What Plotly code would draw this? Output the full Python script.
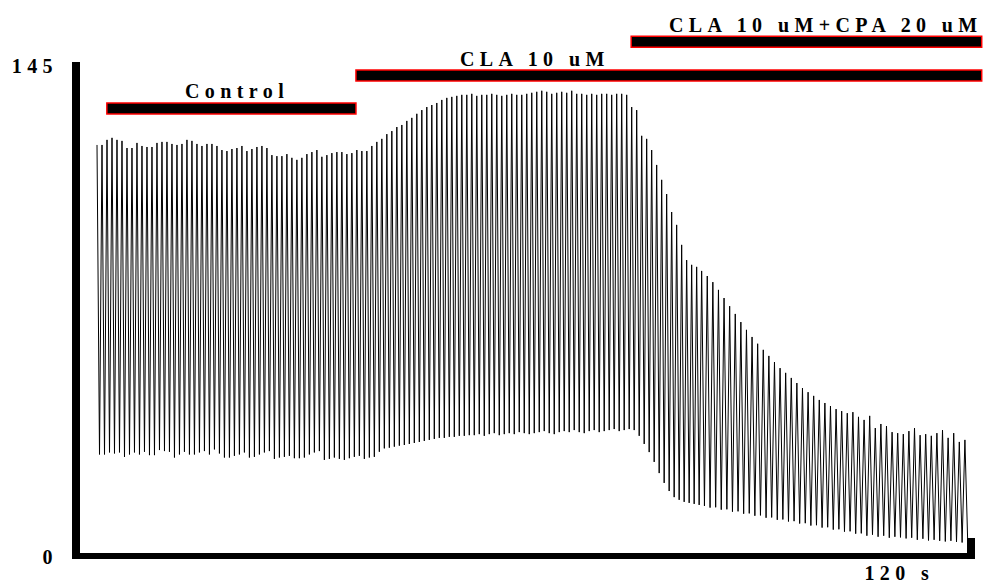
import plotly.graph_objects as go

# ---------------- data ----------------
# Peak and trough of every beat, in trace units (axis 0..145)
peaks_control = [120.5,120.5,122.0,122.6,122.0,121.7,119.6,119.6,121.1,120.2,
                 119.9,119.9,121.1,121.4,121.4,120.8,120.5,120.8,122.0,121.7,
                 120.8,120.2,120.8,120.8,120.2,119.0,118.7,119.3,119.6,120.2,
                 118.7,119.3,119.9,120.2,119.6,117.5,117.2,117.2,117.8,116.7,
                 116.1,116.7,117.8,118.4,119.0,117.0,117.5,118.1,118.4,118.4,
                 117.8,118.1,119.0,118.7,118.7,120.2,121.4,122.3,123.7,124.6,
                 125.8,126.4]
peaks_cla = [127.6,128.5,129.7,130.8,131.7,132.3,132.9,133.8,134.4,134.7,
             135.0,135.3,135.3,135.6,135.0,135.3,135.3,135.6,135.3,135.0,
             135.3,135.6,135.3,135.3,135.6,135.9,136.2,136.5,136.2,135.6,
             135.9,136.2,135.9,136.5,135.6,135.6,135.3,135.6,135.3,135.6,
             135.6,135.3,135.6,135.6,135.3]
peaks_cpa_fall = [131.7,130.8,123.2,122.3,119.0,114.6,110.2,106.0,100.7,96.9,
                  91.0,86.5,85.1,84.5]
peaks_cpa_late = [83.3,81.8,80.0,77.7,75.3,72.9,70.6,68.2,65.9,63.8,
                  61.8,60.0,58.2,56.4,54.6,53.2,51.7,50.2,48.7,47.5,
                  46.4,45.2,44.3,43.4,42.5,41.9,41.3,41.6,40.2,39.3,
                  40.5,36.9,38.1,37.5,35.7,35.4,35.1,36.0,36.9,34.8,
                  35.1,34.6,35.4,36.3,34.0,35.4,32.8,33.4]

troughs_control = [29.1,29.1,29.7,29.4,29.7,28.4,29.1,29.7,29.1,29.9,
                   28.9,28.9,30.4,30.1,29.9,28.2,29.1,29.9,29.1,29.1,
                   29.7,30.1,29.1,30.6,29.4,28.2,28.2,28.7,29.1,29.7,
                   28.2,28.4,29.1,29.7,30.1,27.8,28.2,28.4,28.7,28.0,
                   28.0,28.2,29.1,29.7,30.1,27.5,27.8,28.2,27.8,27.5,
                   28.0,28.4,28.7,27.8,28.2,28.4,29.9,30.9,31.1,31.4,
                   31.7,31.9]
troughs_cla = [32.2,32.5,32.8,33.1,33.4,33.7,34.0,34.0,34.3,34.3,
               34.6,34.6,34.8,34.8,35.1,34.6,35.1,35.4,34.8,35.1,
               35.4,35.1,35.7,35.4,35.1,35.4,35.7,36.0,35.4,35.1,
               35.7,36.0,35.7,36.3,35.7,35.4,36.0,36.3,35.7,36.0,
               36.3,36.6,36.0,36.3,36.6]
troughs_cpa_fall = [36.3,34.6,32.2,29.8,26.9,23.6,20.7,18.3,16.5,15.7,
                    15.1,14.8,14.5,14.2]
troughs_cpa_late = [13.9,13.4,13.5,12.8,12.9,12.2,12.3,11.6,11.7,11.0,
                    11.1,10.4,10.5,9.8,9.9,9.3,9.4,8.7,8.8,8.1,
                    8.2,7.5,7.6,6.9,7.0,6.3,6.4,5.7,5.8,5.1,
                    5.4,4.8,5.1,4.5,4.8,4.6,4.3,4.5,3.9,4.2,
                    3.7,3.9,3.6,3.4,3.6,3.3,3.1,3.2]

# beat timing (s)
first_beat_s = 2.28
beat_interval_early_s = 0.670
beat_interval_late_s = 0.751

# treatment bars
bar_labels = ["Control", "CLA 10 uM", "CLA 10 uM+CPA 20 uM"]
bar_start_s = [3.6, 37.0, 73.9]
bar_end_s = [37.0, 120.9, 120.9]
bar_level = [131.3, 141.0, 151.0]
label_x_s = [21.0, 61.0, 100.0]

# axis
x_range = [0, 120]
y_range = [0, 145]
y_ticks = [0, 145]
x_tick_label = "120 s"

# ---------------- build trace ----------------
peaks = peaks_control + peaks_cla + peaks_cpa_fall + peaks_cpa_late
troughs = troughs_control + troughs_cla + troughs_cpa_fall + troughs_cpa_late
n_early = len(peaks_control) + len(peaks_cla) + len(peaks_cpa_fall)

xs, ys = [], []
t = first_beat_s
for i, (p, q) in enumerate(zip(peaks, troughs)):
    period = beat_interval_early_s if i < n_early else beat_interval_late_s
    xs += [t, t + period / 2]
    ys += [p, q]
    t += period

W, H = 986, 585
M = dict(l=80, r=11, t=62, b=32)
plot_h = H - M["t"] - M["b"]


def xp(v):
    return (v - x_range[0]) / (x_range[1] - x_range[0])


def yp(v):
    return (v - y_range[0]) / (y_range[1] - y_range[0])


FONT = "Liberation Serif"


def spaced(s, px=5.4):
    return f'<span style="letter-spacing:{px}px">{s}</span>'


fig = go.Figure()
fig.add_trace(go.Scatter(x=xs, y=ys, mode="lines",
                         line=dict(color="black", width=1),
                         hoverinfo="skip", showlegend=False))

half_h = 5.5 / plot_h
for lab, s0, s1, lv, lx in zip(bar_labels, bar_start_s, bar_end_s, bar_level, label_x_s):
    fig.add_shape(type="rect", xref="paper", yref="paper",
                  x0=xp(s0), x1=xp(s1), y0=yp(lv) - half_h, y1=yp(lv) + half_h,
                  line=dict(color="#ff0000", width=1.5), fillcolor="black")
    fig.add_annotation(xref="paper", yref="paper", x=xp(lx), y=yp(lv),
                       text=spaced(lab), showarrow=False, yshift=17,
                       xanchor="center", yanchor="middle",
                       font=dict(family=FONT, size=20, color="black", weight="bold"))

fig.update_layout(
    width=W, height=H, margin=M,
    plot_bgcolor="white", paper_bgcolor="white", showlegend=False,
    xaxis=dict(range=x_range, showline=True, linewidth=6, linecolor="black",
               showgrid=False, zeroline=False, automargin=False,
               tickmode="array", tickvals=[119.5], ticktext=[spaced(x_tick_label)],
               ticks="inside", ticklen=15, tickwidth=8, tickcolor="black",
               ticklabelshift=-72, ticklabelstandoff=-3,
               tickfont=dict(family=FONT, size=20, color="black", weight="bold")),
    yaxis=dict(range=y_range, showline=True, linewidth=8, linecolor="black",
               showgrid=False, zeroline=False, automargin=False,
               tickmode="array", tickvals=y_ticks, ticktext=[spaced(str(v)) for v in y_ticks],
               ticks="inside", ticklen=27, tickwidth=6, tickcolor="black",
               ticklabelstandoff=10, ticklabelshift=4,
               tickfont=dict(family=FONT, size=20, color="black", weight="bold")),
)

fig.write_html("out.html", config={"displayModeBar": False},
               post_script="document.body.style.margin='0';document.body.style.overflow='hidden';")
